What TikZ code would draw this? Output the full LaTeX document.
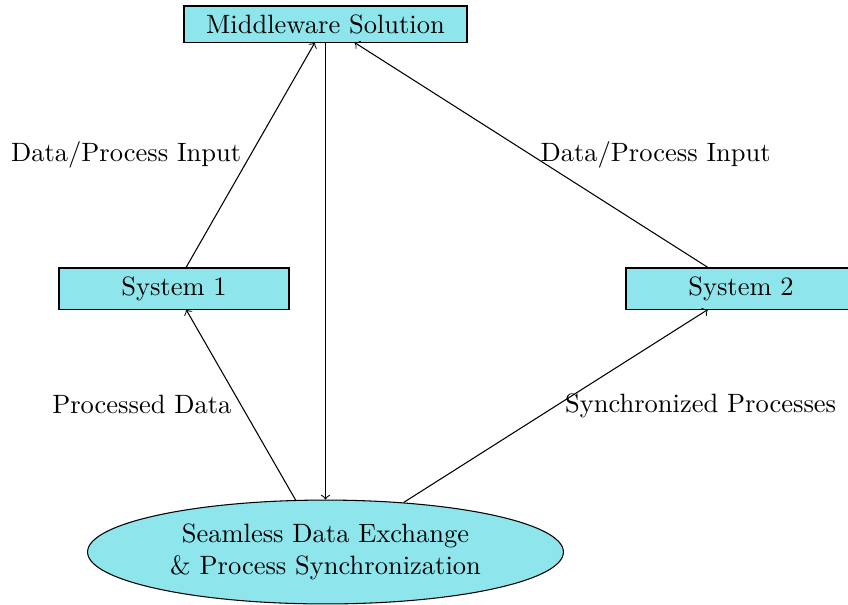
\documentclass[tikz,border=0pt]{standalone}
\usetikzlibrary{shapes.geometric}
\definecolor{boxfill}{RGB}{142,229,236}
\begin{document}
\begin{tikzpicture}[x=0.3774pt,y=-0.3774pt,
  rectbox/.style={draw, fill=boxfill, rectangle, inner sep=0pt},
  ellbox/.style={draw, fill=boxfill, ellipse, inner sep=0pt, align=center},
  conn/.style={->}]
\useasboundingbox (0,0) rectangle (848,604);
\node[rectbox, minimum width=106.8pt, minimum height=13.6pt] (mw) at (325.5,24) {Middleware Solution};
\node[rectbox, minimum width=86.8pt, minimum height=15.5pt] (s1) at (174,288.5) {System 1};
\node[rectbox, minimum width=86.8pt, minimum height=15.5pt] (s2) at (741,288.5) {System 2};
\node[ellbox, minimum width=179.6pt, minimum height=39.2pt] (ex) at (325.5,552) {Seamless Data Exchange\\\& Process Synchronization};
\draw[conn] (s1) -- node[left] (l1) {Data/Process Input} (mw);
\draw[conn] (s2) -- node[right] (l2) {Data/Process Input} (mw);
\draw[conn] (mw) -- (ex);
\draw[conn] (ex) -- node[left] (l3) {Processed Data} (s1);
\draw[conn] (ex) -- node[right] (l4) {Synchronized Processes} (s2);
\end{tikzpicture}
\end{document}
